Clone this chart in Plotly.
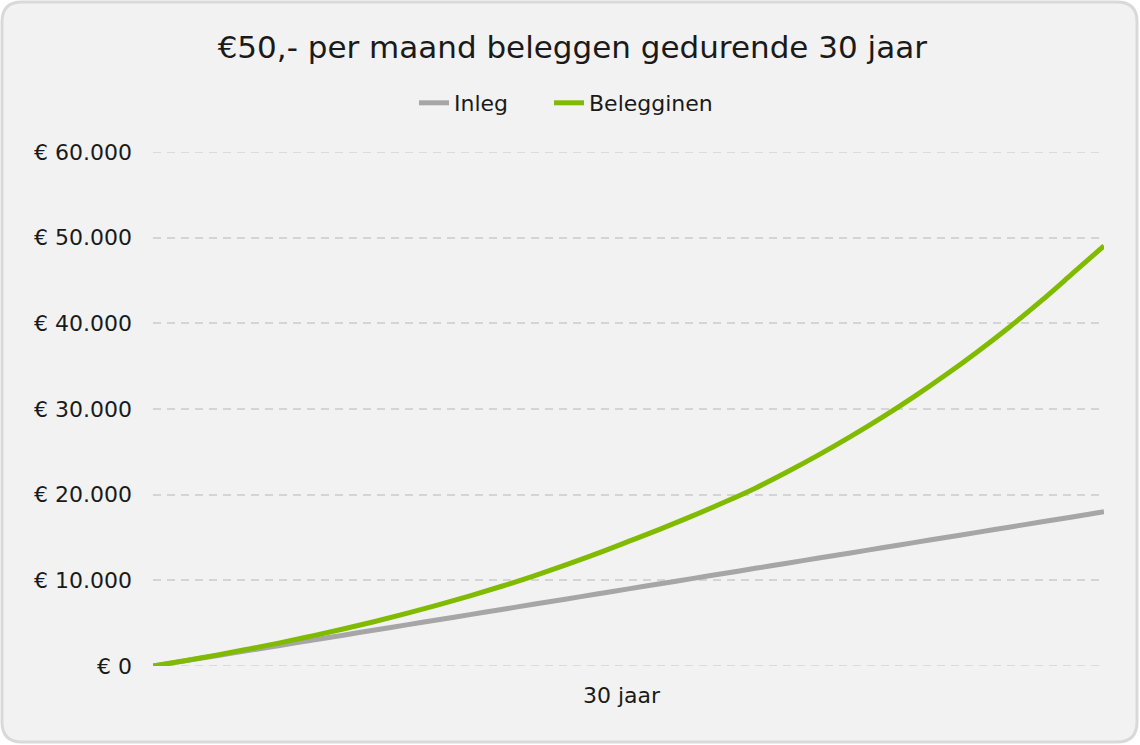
import plotly.graph_objects as go

# ---- data ----
years = list(range(0, 31))
inleg = [0, 600, 1200, 1800, 2400, 3000, 3600, 4200, 4800, 5400, 6000,
         6600, 7200, 7800, 8400, 9000, 9600, 10200, 10800, 11400, 12000,
         12600, 13200, 13800, 14400, 15000, 15600, 16200, 16800, 17400, 18000]
beleggingen = [0, 620, 1270, 1965, 2700, 3490, 4320, 5200, 6140, 7135, 8190,
               9310, 10500, 11770, 13110, 14540, 15980, 17490, 19080, 20760, 22640,
               24640, 26770, 29020, 31410, 33960, 36660, 39520, 42560, 45790, 49050]
series_names = ["Inleg", "Belegginen"]
y_tick_vals = [0, 10000, 20000, 30000, 40000, 50000, 60000]
y_tick_text = ["€ 0", "€ 10.000", "€ 20.000", "€ 30.000", "€ 40.000", "€ 50.000", "€ 60.000"]
x_tick_vals = [14.78]
x_tick_text = ["30 jaar"]
title_text = "€50,- per maand beleggen gedurende 30 jaar"

# ---- layout geometry ----
W, H = 1140, 745
ML, MR, MT, MB = 153, 36, 152, 79
PW, PH = W - ML - MR, H - MT - MB
FONT = "DejaVu Sans"
TXT = "#1a1a1a"
GRID = "#d4d4d4"


def px(x):
    return (x - ML) / PW


def py(y):
    return (H - MB - y) / PH


def rounded_rect(x0, y0, x1, y1, r):
    pts = [
        f"M {px(x0 + r)},{py(y0)}",
        f"L {px(x1 - r)},{py(y0)}",
        f"Q {px(x1)},{py(y0)} {px(x1)},{py(y0 + r)}",
        f"L {px(x1)},{py(y1 - r)}",
        f"Q {px(x1)},{py(y1)} {px(x1 - r)},{py(y1)}",
        f"L {px(x0 + r)},{py(y1)}",
        f"Q {px(x0)},{py(y1)} {px(x0)},{py(y1 - r)}",
        f"L {px(x0)},{py(y0 + r)}",
        f"Q {px(x0)},{py(y0)} {px(x0 + r)},{py(y0)}",
        "Z",
    ]
    return " ".join(pts)


fig = go.Figure()
fig.add_trace(go.Scatter(x=years, y=inleg, mode="lines", name=series_names[0], legend="legend",
                         line=dict(color="#a6a6a6", width=5, shape="spline")))
fig.add_trace(go.Scatter(x=years, y=beleggingen, mode="lines", name=series_names[1], legend="legend2",
                         line=dict(color="#80bb00", width=5, shape="spline")))

legend_common = dict(orientation="h", xanchor="left", y=py(103), yanchor="middle",
                     font=dict(family=FONT, size=22, color=TXT), bgcolor="rgba(0,0,0,0)")

shapes = [dict(type="path", xref="paper", yref="paper", layer="below",
               path=rounded_rect(2, 2, 1137, 742, 20),
               fillcolor="#f2f2f2", line=dict(color="#d9d9d9", width=3))]
# edge grid lines (Plotly omits grid lines on the plot boundary)
for v in (y_tick_vals[0], y_tick_vals[-1]):
    shapes.append(dict(type="line", xref="paper", yref="y", x0=0, x1=1, y0=v, y1=v,
                       layer="below", line=dict(color=GRID, width=1.5, dash="8px,6px")))

fig.update_layout(
    width=W, height=H,
    margin=dict(l=ML, r=MR, t=MT, b=MB),
    paper_bgcolor="white",
    plot_bgcolor="rgba(0,0,0,0)",
    font=dict(family=FONT, size=22, color=TXT),
    title=dict(text=title_text, x=0.502, xanchor="center", xref="container",
               y=1 - 47 / H, yanchor="middle", yref="container",
               font=dict(family=FONT, size=31, color=TXT)),
    legend=dict(x=px(414), **legend_common),
    legend2=dict(x=px(549), **legend_common),
    showlegend=True,
    shapes=shapes,
)

fig.update_xaxes(range=[0, 30], tickmode="array", tickvals=x_tick_vals, ticktext=x_tick_text,
                 showgrid=False, zeroline=False, showline=False, ticks="",
                 ticklabelstandoff=14, tickfont=dict(family=FONT, size=22, color=TXT))
fig.update_yaxes(range=[0, 60000], tickmode="array", tickvals=y_tick_vals, ticktext=y_tick_text,
                 showgrid=True, gridcolor=GRID, gridwidth=1.5, griddash="8px,6px",
                 zeroline=False, showline=False, ticks="", ticklabelstandoff=20,
                 tickfont=dict(family=FONT, size=22, color=TXT))

fig.write_html("out.html")
